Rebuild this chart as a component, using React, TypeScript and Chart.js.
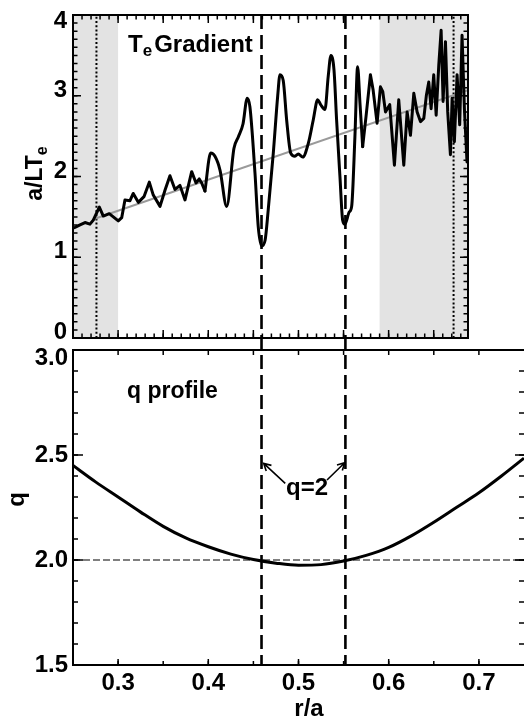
import React, { useEffect, useRef } from 'react';
import { Chart, registerables } from 'chart.js';

Chart.register(...registerables);

const FAMILY = '"Liberation Sans", Arial, Helvetica, sans-serif';

// ---------- Top panel: Te gradient ----------
const TE_R = [
  0.25, 0.2522, 0.2578, 0.2633, 0.2688, 0.2725, 0.2792, 0.2836, 0.2902, 0.2947, 0.3002,
  0.304, 0.3076, 0.3132, 0.3168, 0.3224, 0.3287, 0.3346, 0.339, 0.3465, 0.352,
  0.3575, 0.3631, 0.3686, 0.3742, 0.3816, 0.3864, 0.39, 0.3927, 0.3963, 0.4027,
  0.4074, 0.413, 0.4204, 0.4285, 0.4333, 0.4385, 0.4432, 0.4462, 0.4518, 0.4554,
  0.4592, 0.463, 0.4665, 0.4721, 0.477, 0.4795, 0.4831, 0.4869, 0.4914, 0.4961,
  0.4998, 0.5047, 0.5109, 0.5164, 0.5213, 0.5246, 0.5294, 0.533, 0.536, 0.5394,
  0.5423, 0.546, 0.549, 0.5516, 0.5563, 0.559, 0.5626, 0.5656, 0.5682, 0.5712,
  0.575, 0.5798, 0.5828, 0.5872, 0.5909, 0.5935, 0.5965, 0.6012, 0.6064, 0.6112,
  0.6168, 0.6205, 0.6242, 0.6279, 0.6316, 0.6353, 0.639, 0.6419, 0.6445, 0.6471,
  0.65, 0.6527, 0.6556, 0.6582, 0.6604, 0.663, 0.6655, 0.6685, 0.6704, 0.6729,
  0.6759, 0.6788, 0.6814, 0.684, 0.6869,
];
const TE_GRAD = [
  1.36, 1.37, 1.4, 1.43, 1.41, 1.46, 1.62, 1.51, 1.54, 1.5, 1.45,
  1.49, 1.71, 1.7, 1.79, 1.68, 1.75, 1.93, 1.77, 1.63, 1.83,
  2.01, 1.84, 1.89, 1.71, 2.06, 1.92, 1.97, 1.92, 1.82, 2.29,
  2.25, 2.08, 1.63, 2.35, 2.49, 2.65, 2.97, 2.86, 2.04, 1.38,
  1.14, 1.21, 1.59, 2.29, 3.0, 3.26, 3.19, 2.7, 2.29, 2.25,
  2.28, 2.24, 2.41, 2.7, 2.95, 2.89, 2.83, 3.24, 3.5, 3.32,
  2.7, 2.0, 1.46, 1.41, 1.56, 1.63, 2.49, 3.36, 2.91, 2.37,
  2.75, 3.26, 3.07, 2.66, 3.11, 3.05, 2.8, 2.89, 2.14, 2.95,
  2.14, 2.8, 2.51, 3.03, 2.8, 2.68, 2.72, 3.01, 3.17, 2.84,
  3.26, 2.76, 3.38, 3.81, 2.93, 3.67, 2.8, 2.27, 2.97, 2.43,
  3.26, 2.64, 3.75, 2.84, 2.18,
];
// r/a range where the measured gradient is smooth (drawn with a smooth curve)
const SMOOTH_FROM = 0.3963;
const SMOOTH_TO = 0.5712;
const FIT_R = [0.275, 0.688];
const FIT_GRAD = [1.48, 3.07];
const TOP_X_MIN = 0.25;
const TOP_X_MAX = 0.688;
const TOP_Y_TICKS = [0, 1, 2, 3, 4];
const SHADED_BANDS = [
  [0.25, 0.3],
  [0.59, 0.688],
];
const DOTTED_R = [0.276, 0.672];

// ---------- Bottom panel: q profile ----------
const Q_R = [
  0.25, 0.275, 0.3, 0.325, 0.35, 0.375, 0.4, 0.425, 0.45, 0.475, 0.5,
  0.525, 0.55, 0.575, 0.6, 0.625, 0.65, 0.675, 0.7, 0.725, 0.75,
];
const Q_VAL = [
  2.45, 2.372, 2.3, 2.228, 2.16, 2.105, 2.063, 2.028, 2.002, 1.985, 1.975,
  1.978, 1.995, 2.022, 2.06, 2.115, 2.18, 2.25, 2.32, 2.4, 2.485,
];
const Q_REF = 2.0;
const BOT_X_MIN = 0.25;
const BOT_X_MAX = 0.75;
const BOT_X_TICKS = [0.3, 0.4, 0.5, 0.6, 0.7];
const BOT_Y_TICKS = [1.5, 2.0, 2.5, 3.0];
const Q2_R = [0.459, 0.552];

// annotation anchors (data units)
const TE_TITLE_POS = { x: 0.311, y: 3.54 };
const Q_TITLE_POS = { x: 0.31, y: 2.771 };
const Q2_LABEL_POS = { x: 0.5094, y: 2.31 };
const Q2_ARROWS = [
  { from: { x: 0.4853, y: 2.365 }, to: { x: 0.4614, y: 2.46 } },
  { from: { x: 0.5316, y: 2.381 }, to: { x: 0.5512, y: 2.463 } },
];

function range(a: number, b: number, step: number): number[] {
  const n = Math.round((b - a) / step);
  const out: number[] = [];
  for (let i = 0; i <= n; i++) out.push(+(a + i * step).toFixed(4));
  return out;
}

function font(size: number) {
  return `bold ${size}px ${FAMILY}`;
}

type Side = 'left' | 'right' | 'top' | 'bottom';
function drawTicks(ctx: CanvasRenderingContext2D, scale: any, area: any, values: number[], len: number, side: Side) {
  ctx.beginPath();
  for (const v of values) {
    const p = scale.getPixelForValue(v);
    if (side === 'left') { ctx.moveTo(area.left, p); ctx.lineTo(area.left + len, p); }
    if (side === 'right') { ctx.moveTo(area.right, p); ctx.lineTo(area.right - len, p); }
    if (side === 'top') { ctx.moveTo(p, area.top); ctx.lineTo(p, area.top + len); }
    if (side === 'bottom') { ctx.moveTo(p, area.bottom); ctx.lineTo(p, area.bottom - len); }
  }
  ctx.stroke();
}

function arrow(ctx: CanvasRenderingContext2D, x1: number, y1: number, x2: number, y2: number) {
  const ang = Math.atan2(y2 - y1, x2 - x1);
  const h = 8;
  ctx.beginPath();
  ctx.moveTo(x1, y1);
  ctx.lineTo(x2, y2);
  ctx.moveTo(x2 - h * Math.cos(ang - 0.5), y2 - h * Math.sin(ang - 0.5));
  ctx.lineTo(x2, y2);
  ctx.lineTo(x2 - h * Math.cos(ang + 0.5), y2 - h * Math.sin(ang + 0.5));
  ctx.stroke();
}

const topDecor = {
  id: 'topDecor',
  beforeDatasetsDraw(chart: any) {
    const { ctx, chartArea: a, scales } = chart;
    const x = scales.x;
    ctx.save();
    ctx.fillStyle = '#e3e3e3';
    for (const [s, e] of SHADED_BANDS) {
      const p1 = x.getPixelForValue(s);
      const p2 = x.getPixelForValue(e);
      ctx.fillRect(p1, a.top, p2 - p1, a.bottom - a.top);
    }
    ctx.restore();
  },
  afterDatasetsDraw(chart: any) {
    const { ctx, chartArea: a, scales } = chart;
    const x = scales.x;
    const y = scales.y;
    ctx.save();
    ctx.strokeStyle = '#000';
    ctx.lineWidth = 2;
    ctx.strokeRect(a.left, a.top, a.right - a.left, a.bottom - a.top);
    ctx.lineWidth = 1.5;
    const yMinor = range(0, 4, 0.1);
    const xMinor = range(0.26, 0.68, 0.01);
    const xMajor = range(0.3, 0.65, 0.05);
    drawTicks(ctx, y, a, yMinor, 4.5, 'left');
    drawTicks(ctx, y, a, TOP_Y_TICKS, 8, 'left');
    drawTicks(ctx, y, a, yMinor, 4.5, 'right');
    drawTicks(ctx, y, a, TOP_Y_TICKS, 8, 'right');
    drawTicks(ctx, x, a, xMinor, 4.5, 'top');
    drawTicks(ctx, x, a, xMajor, 8, 'top');
    drawTicks(ctx, x, a, xMinor, 4.5, 'bottom');
    drawTicks(ctx, x, a, xMajor, 8, 'bottom');

    // panel title "Te Gradient"
    ctx.fillStyle = '#000';
    ctx.textBaseline = 'alphabetic';
    ctx.textAlign = 'left';
    let tx = x.getPixelForValue(TE_TITLE_POS.x);
    const ty = y.getPixelForValue(TE_TITLE_POS.y);
    ctx.font = font(24);
    ctx.fillText('T', tx, ty);
    tx += ctx.measureText('T').width;
    ctx.font = font(17);
    ctx.fillText('e', tx, ty + 4);
    tx += ctx.measureText('e').width + 2;
    ctx.font = font(24);
    ctx.fillText('Gradient', tx, ty);

    // y-axis title a/LTe (rotated)
    ctx.font = font(23);
    const w1 = ctx.measureText('a/LT').width;
    ctx.font = font(16);
    const w2 = ctx.measureText('e').width;
    const cy = (a.top + a.bottom) / 2 - 3;
    ctx.translate(42, cy + (w1 + w2) / 2);
    ctx.rotate(-Math.PI / 2);
    ctx.font = font(23);
    ctx.fillText('a/LT', 0, 0);
    ctx.font = font(16);
    ctx.fillText('e', w1, 5);
    ctx.restore();
  },
};

function makeBottomDecor(getTop: () => number) {
  return {
    id: 'botDecor',
    afterDatasetsDraw(chart: any) {
      const { ctx, chartArea: a, scales } = chart;
      const x = scales.x;
      const y = scales.y;
      ctx.save();
      ctx.strokeStyle = '#000';
      ctx.lineWidth = 2;
      ctx.beginPath();
      ctx.moveTo(a.right + 2, a.top);
      ctx.lineTo(a.left, a.top);
      ctx.lineTo(a.left, a.bottom);
      ctx.lineTo(a.right + 2, a.bottom);
      ctx.stroke();

      ctx.lineWidth = 1.5;
      const yMinor = range(1.5, 3, 0.1);
      const xAll = range(0.3, 0.7, 0.05);
      drawTicks(ctx, y, a, yMinor, 5, 'left');
      drawTicks(ctx, y, a, BOT_Y_TICKS, 10, 'left');
      drawTicks(ctx, y, a, yMinor, 5, 'right');
      drawTicks(ctx, y, a, BOT_Y_TICKS, 9, 'right');
      drawTicks(ctx, x, a, xAll, 5, 'top');
      drawTicks(ctx, x, a, xAll, 4, 'bottom');
      drawTicks(ctx, x, a, BOT_X_TICKS, 6, 'bottom');

      // vertical q=2 dashed lines spanning both panels
      ctx.lineWidth = 2.6;
      ctx.setLineDash([14, 6]);
      const top = getTop();
      for (const r of Q2_R) {
        const px = x.getPixelForValue(r);
        ctx.beginPath();
        ctx.moveTo(px, top);
        ctx.lineTo(px, a.bottom);
        ctx.stroke();
      }
      ctx.setLineDash([]);

      // arrows + label
      ctx.lineWidth = 1.6;
      for (const ar of Q2_ARROWS) {
        arrow(ctx, x.getPixelForValue(ar.from.x), y.getPixelForValue(ar.from.y), x.getPixelForValue(ar.to.x), y.getPixelForValue(ar.to.y));
      }
      ctx.fillStyle = '#000';
      ctx.font = font(24);
      ctx.textAlign = 'center';
      ctx.textBaseline = 'alphabetic';
      ctx.fillText('q=2', x.getPixelForValue(Q2_LABEL_POS.x), y.getPixelForValue(Q2_LABEL_POS.y));

      // panel title
      ctx.textAlign = 'left';
      ctx.font = font(23);
      ctx.fillText('q profile', x.getPixelForValue(Q_TITLE_POS.x), y.getPixelForValue(Q_TITLE_POS.y));

      // x-axis title
      ctx.textAlign = 'center';
      ctx.font = font(24);
      ctx.fillText('r/a', 309, 716);

      // y-axis title (rotated)
      ctx.translate(24, (a.top + a.bottom) / 2 - 8);
      ctx.rotate(-Math.PI / 2);
      ctx.textAlign = 'center';
      ctx.fillText('q', 0, 0);
      ctx.restore();
    },
  };
}

function teSegment(from: number, to: number) {
  const pts: { x: number; y: number }[] = [];
  TE_R.forEach((r, i) => {
    if (r >= from && r <= to) pts.push({ x: r, y: TE_GRAD[i] });
  });
  return pts;
}

export default function App() {
  const topRef = useRef<HTMLCanvasElement>(null);
  const botRef = useRef<HTMLCanvasElement>(null);

  useEffect(() => {
    const curveStyle = { borderColor: '#000', borderWidth: 3, pointRadius: 0, borderJoinStyle: 'round', borderCapStyle: 'round' };
    const c1 = new Chart(topRef.current as HTMLCanvasElement, {
      type: 'line',
      data: {
        datasets: [
          { data: teSegment(0, SMOOTH_FROM), ...curveStyle, tension: 0 },
          { data: teSegment(SMOOTH_FROM, SMOOTH_TO), ...curveStyle, cubicInterpolationMode: 'monotone' },
          { data: teSegment(SMOOTH_TO, 1), ...curveStyle, tension: 0 },
          {
            data: FIT_R.map((r, i) => ({ x: r, y: FIT_GRAD[i] })),
            borderColor: '#9a9a9a',
            borderWidth: 2,
            pointRadius: 0,
          },
          ...DOTTED_R.map((r) => ({
            data: [
              { x: r, y: 0 },
              { x: r, y: 4 },
            ],
            borderColor: '#000',
            borderWidth: 2,
            borderDash: [2, 2.2],
            pointRadius: 0,
          })),
        ],
      } as any,
      options: {
        animation: false,
        responsive: false,
        devicePixelRatio: 1,
        events: [],
        layout: { padding: { top: 15, right: 56, bottom: 381, left: 0 } },
        plugins: { legend: { display: false }, tooltip: { enabled: false } },
        scales: {
          x: { type: 'linear', min: TOP_X_MIN, max: TOP_X_MAX, display: false },
          y: {
            type: 'linear',
            min: 0,
            max: 4,
            position: 'left',
            grid: { display: false, drawTicks: false },
            border: { display: false },
            afterBuildTicks: (s: any) => {
              s.ticks = TOP_Y_TICKS.map((v) => ({ value: v }));
            },
            afterFit: (s: any) => {
              s.width = 73;
              s.paddingTop = 0;
              s.paddingBottom = 0;
            },
            ticks: {
              padding: 6,
              color: '#000',
              autoSkip: false,
              font: (c: any) => ({
                family: FAMILY,
                size: 24,
                weight: 'bold',
                lineHeight: c.tick && c.tick.value === 4 ? '13px' : '11px',
              }),
              callback: (v: any) => (v === 4 ? ['', '4'] : [String(v), '']),
            },
          },
        },
      } as any,
      plugins: [topDecor],
    });

    const c2 = new Chart(botRef.current as HTMLCanvasElement, {
      type: 'line',
      data: {
        datasets: [
          {
            data: Q_R.map((r, i) => ({ x: r, y: Q_VAL[i] })),
            borderColor: '#000',
            borderWidth: 3,
            pointRadius: 0,
            cubicInterpolationMode: 'monotone',
          },
          {
            data: [
              { x: BOT_X_MIN, y: Q_REF },
              { x: BOT_X_MAX, y: Q_REF },
            ],
            borderColor: '#000',
            borderWidth: 1.2,
            borderDash: [7, 3],
            pointRadius: 0,
          },
        ],
      } as any,
      options: {
        animation: false,
        responsive: false,
        devicePixelRatio: 1,
        events: [],
        layout: { padding: { top: 350, right: 0, bottom: 0, left: 0 } },
        plugins: { legend: { display: false }, tooltip: { enabled: false } },
        scales: {
          x: {
            type: 'linear',
            min: BOT_X_MIN,
            max: BOT_X_MAX,
            position: 'bottom',
            grid: { display: false, drawTicks: false },
            border: { display: false },
            afterBuildTicks: (s: any) => {
              s.ticks = BOT_X_TICKS.map((v) => ({ value: v }));
            },
            afterFit: (s: any) => {
              s.height = 54;
              s.paddingLeft = 0;
              s.paddingRight = 0;
            },
            ticks: {
              padding: 4,
              color: '#000',
              autoSkip: false,
              maxRotation: 0,
              font: { family: FAMILY, size: 24, weight: 'bold' },
              callback: (v: any) => Number(v).toFixed(1),
            },
          },
          y: {
            type: 'linear',
            min: 1.5,
            max: 3.0,
            position: 'left',
            grid: { display: false, drawTicks: false },
            border: { display: false },
            afterBuildTicks: (s: any) => {
              s.ticks = BOT_Y_TICKS.map((v) => ({ value: v }));
            },
            afterFit: (s: any) => {
              s.width = 73;
              s.paddingTop = 0;
              s.paddingBottom = 0;
            },
            ticks: {
              padding: 5,
              color: '#000',
              autoSkip: false,
              font: (c: any) => ({
                family: FAMILY,
                size: 24,
                weight: 'bold',
                lineHeight: c.tick && c.tick.value === 3 ? '16px' : 1.2,
              }),
              callback: (v: any) => (v === 3 ? ['', '3.0'] : Number(v).toFixed(1)),
            },
          },
        },
      } as any,
      plugins: [makeBottomDecor(() => c1.chartArea.top)],
    });

    return () => {
      c2.destroy();
      c1.destroy();
    };
  }, []);

  return (
    <div style={{ position: 'absolute', left: 0, top: 0, width: 524, height: 719, background: '#fff', overflow: 'hidden' }}>
      <canvas ref={topRef} width={524} height={719} style={{ position: 'absolute', left: 0, top: 0, width: 524, height: 719 }} />
      <canvas ref={botRef} width={524} height={719} style={{ position: 'absolute', left: 0, top: 0, width: 524, height: 719 }} />
    </div>
  );
}
